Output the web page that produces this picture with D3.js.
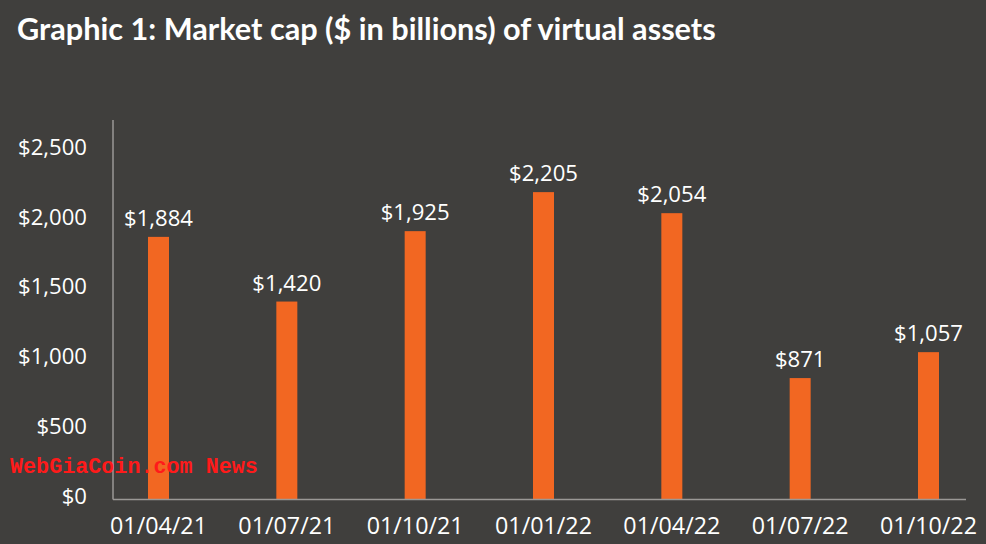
<!DOCTYPE html>
<html><head><meta charset="utf-8">
<script src="https://cdn.jsdelivr.net/npm/d3@7"></script>
<style>html,body{margin:0;padding:0;background:#403f3d;}svg{display:block;}</style>
</head><body>
<svg id="c" width="986" height="544"></svg>
<script>
const categories = ["01/04/21","01/07/21","01/10/21","01/01/22","01/04/22","01/07/22","01/10/22"];
const values = [1884, 1420, 1925, 2205, 2054, 871, 1057];
const yTicks = [0, 500, 1000, 1500, 2000, 2500];
const title = "Graphic 1: Market cap ($ in billions) of virtual assets";
const watermark = "WebGiaCoin.com News";

const svg = d3.select("#c");
const W = 986, H = 544;
svg.append("rect").attr("width", W).attr("height", H).attr("fill", "#403f3d");

const font = "Lato, 'Open Sans', sans-serif";
const lfont = "'Open Sans', Lato, sans-serif";
const x = d3.scalePoint().domain(categories).range([158.5, 928.5]);
const y = d3.scaleLinear().domain([0, 2500]).range([499.5, 151]);
const barW = 21;

function fit(sel, w) {
  const n = sel.node(); const l = n.getComputedTextLength();
  const fs = parseFloat(sel.attr("font-size"));
  sel.attr("font-size", fs * w / l);
}
function sizeFor(str, w, fam, weight) {
  const tmp = svg.append("text").attr("font-family", fam).attr("font-weight", weight || 400)
    .attr("font-size", 20).text(str);
  const l = tmp.node().getComputedTextLength(); tmp.remove();
  return 20 * w / l;
}

const t = svg.append("text").attr("x", 17).attr("y", 40).attr("fill", "#fff")
  .attr("font-family", font).attr("font-weight", 700).attr("font-size", 26).text(title);
fit(t, 699);

svg.append("line").attr("x1", 113).attr("x2", 113).attr("y1", 120).attr("y2", 499.5)
  .attr("stroke", "#9a9896").attr("stroke-width", 1.5);

svg.selectAll("rect.bar").data(values).join("rect").attr("class", "bar")
  .attr("x", (d, i) => x(categories[i]) - barW / 2)
  .attr("y", d => y(d))
  .attr("width", barW)
  .attr("height", d => y(0) - y(d))
  .attr("fill", "#f26722");

svg.append("line").attr("x1", 113).attr("x2", 966).attr("y1", 499.5).attr("y2", 499.5)
  .attr("stroke", "#9a9896").attr("stroke-width", 1.5);

const fmt = d => "$" + d3.format(",")(d);
const ys = sizeFor("$2,500", 69, lfont);
svg.selectAll("text.yt").data(yTicks).join("text").attr("class", "yt")
  .attr("x", 87).attr("y", d => y(d) + 4)
  .attr("text-anchor", "end").attr("fill", "#fff")
  .attr("font-family", lfont).attr("font-size", ys).text(fmt);

const xs = sizeFor("01/04/21", 97, lfont);
svg.selectAll("text.xt").data(categories).join("text").attr("class", "xt")
  .attr("x", d => x(d)).attr("y", 534)
  .attr("text-anchor", "middle").attr("fill", "#fff")
  .attr("font-family", lfont).attr("font-size", xs).text(d => d);

const vs = sizeFor("$1,884", 69, lfont, 500);
svg.selectAll("text.vl").data(values).join("text").attr("class", "vl")
  .attr("x", (d, i) => x(categories[i])).attr("y", d => y(d) - 11)
  .attr("text-anchor", "middle").attr("fill", "#fff")
  .attr("font-family", lfont).attr("font-weight", 500).attr("font-size", vs).text(fmt);

const wm = svg.append("text").attr("x", 10).attr("y", 473).attr("fill", "#ff1a1a")
  .attr("font-family", "'Liberation Mono', 'DejaVu Sans Mono', monospace").attr("font-weight", 700)
  .attr("font-size", 20).text(watermark);
fit(wm, 248);
</script>
</body></html>
